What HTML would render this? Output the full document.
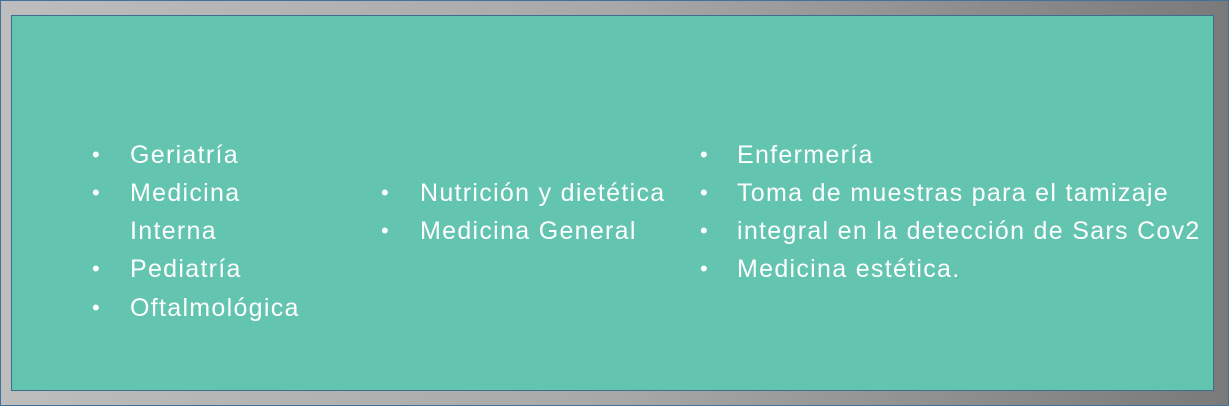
<!DOCTYPE html>
<html><head><meta charset="utf-8"><style>
body{margin:0;width:1229px;height:406px;overflow:hidden;}
#frame{position:absolute;left:0;top:0;width:1227px;height:404px;border:1px solid #41719c;background:linear-gradient(90deg,#bdbdbd 0%,#a8a8a8 50%,#7a7a7a 100%);}
#panel{position:absolute;left:11px;top:15px;width:1201px;height:374px;background:#63c4af;border:1px solid #3c6e8f;}
.item{position:absolute;font-family:"Liberation Sans",sans-serif;font-size:25px;letter-spacing:1.3px;color:#fff;white-space:nowrap;line-height:38px;}
.b{position:absolute;font-family:"Liberation Sans",sans-serif;font-size:22px;color:#fff;line-height:38px;}
</style></head><body>
<div id="frame"></div>
<div id="panel"></div>
<div>
<span class="b" style="left:92px;top:136px">•</span><span class="item" style="left:130px;top:136px">Geriatría</span>
<span class="b" style="left:92px;top:174px">•</span><span class="item" style="left:130px;top:174px">Medicina<br>Interna</span>
<span class="b" style="left:92px;top:250px">•</span><span class="item" style="left:130px;top:250px">Pediatría</span>
<span class="b" style="left:92px;top:289px">•</span><span class="item" style="left:130px;top:289px">Oftalmológica</span>
</div>
<div>
<span class="b" style="left:381px;top:174px">•</span><span class="item" style="left:420px;top:174px">Nutrición y dietética</span>
<span class="b" style="left:381px;top:212px">•</span><span class="item" style="left:420px;top:212px">Medicina General</span>
</div>
<div>
<span class="b" style="left:700px;top:136px">•</span><span class="item" style="left:737px;top:136px">Enfermería</span>
<span class="b" style="left:700px;top:174px">•</span><span class="item" style="left:737px;top:174px">Toma de muestras para el tamizaje</span>
<span class="b" style="left:700px;top:212px">•</span><span class="item" style="left:737px;top:212px">integral en la detección de Sars Cov2</span>
<span class="b" style="left:700px;top:250px">•</span><span class="item" style="left:737px;top:250px">Medicina estética.</span>
</div>
</body></html>
